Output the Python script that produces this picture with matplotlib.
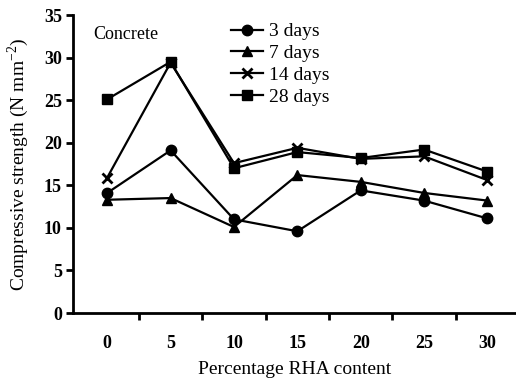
import matplotlib
matplotlib.use("Agg")
import matplotlib.pyplot as plt
import numpy as np

categories = ["0", "5", "10", "15", "20", "25", "30"]
days3 = [14.1, 19.1, 11.0, 9.6, 14.4, 13.2, 11.1]
days7 = [13.3, 13.5, 10.1, 16.2, 15.4, 14.1, 13.2]
days14 = [15.9, 29.4, 17.6, 19.4, 18.1, 18.4, 15.6]
days28 = [25.1, 29.5, 17.0, 18.9, 18.2, 19.2, 16.6]
series_labels = ["3 days", "7 days", "14 days", "28 days"]

plt.rcParams['font.family'] = ['Liberation Serif', 'DejaVu Serif']
plt.rcParams['mathtext.fontset'] = 'custom'
plt.rcParams['mathtext.rm'] = 'Liberation Serif'

fig = plt.figure(figsize=(5.16, 3.81), dpi=100)
ax = fig.add_axes([73/516, 1-313/381, 1-73/516, (313-15)/381])

x = np.arange(len(categories))
ax.plot(x, days3, color='black', lw=1.6, marker='o', ms=7.5, label=series_labels[0])
ax.plot(x, days7, color='black', lw=1.6, marker='^', ms=7.5, label=series_labels[1])
ax.plot(x, days14, color='black', lw=1.6, marker='x', ms=7.5, mew=2, label=series_labels[2])
ax.plot(x, days28, color='black', lw=1.6, marker='s', ms=7.5, label=series_labels[3])

ax.set_xlim(-0.54, 6.45)
ax.set_ylim(0, 35)
ax.set_yticks(np.arange(0, 36, 5))
ax.set_xticks(np.arange(0.5, 6, 1))
ax.set_xticklabels([])
ax.set_xticks(x, minor=True)
ax.set_xticklabels(categories, minor=True, fontsize=13, fontweight='bold')
ax.tick_params(axis='x', which='minor', length=0, pad=16)
ax.tick_params(axis='x', which='major', length=5, width=2, direction='out')
ax.tick_params(axis='y', length=5, width=2, direction='out', labelsize=13, pad=3)
for lab in ax.get_yticklabels():
    lab.set_fontweight('bold')

for s in ['top', 'right']:
    ax.spines[s].set_visible(False)
for s in ['left', 'bottom']:
    ax.spines[s].set_linewidth(2)

ax.set_xlabel("Percentage RHA content", fontsize=14, labelpad=6)
ax.set_ylabel("Compressive strength (N mm$^{-2}$)", fontsize=14, labelpad=9)

ax.text(0.045, 0.935, "Concrete", transform=ax.transAxes, fontsize=13, va='center', ha='left')

leg = ax.legend(loc='upper left', bbox_to_anchor=(0.34, 1.0), frameon=False,
                fontsize=14, handlelength=1.6, handletextpad=0.35, labelspacing=0.22,
                borderaxespad=0)

fig.savefig("out.png", dpi=100)
